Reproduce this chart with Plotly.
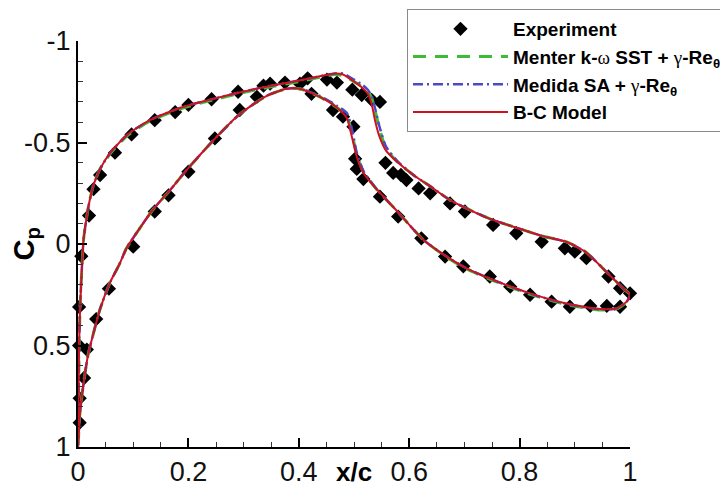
import plotly.graph_objects as go

# ---- Suction side (upper surface), leading edge -> trailing edge ----
x_upper = [0.0, 0.001, 0.002, 0.004, 0.007, 0.01, 0.015, 0.02, 0.028, 0.04,
           0.06, 0.09, 0.13, 0.19, 0.245, 0.29, 0.35, 0.41, 0.445, 0.465,
           0.48, 0.5, 0.515, 0.525, 0.532, 0.538, 0.546, 0.558, 0.58, 0.61,
           0.635, 0.675, 0.72, 0.75, 0.8, 0.84, 0.885, 0.92, 0.96, 0.99, 1.0]
cp_upper_bc = [1.0, 0.75, 0.5, 0.3, 0.12, -0.02, -0.12, -0.2, -0.29, -0.37,
               -0.455, -0.54, -0.61, -0.675, -0.715, -0.745, -0.78, -0.81, -0.83, -0.84,
               -0.835, -0.8, -0.77, -0.74, -0.69, -0.61, -0.53, -0.46, -0.4, -0.335,
               -0.29, -0.215, -0.155, -0.12, -0.075, -0.04, -0.01, 0.04, 0.145, 0.225, 0.25]
cp_upper_sst = [1.0, 0.75, 0.5, 0.3, 0.12, -0.02, -0.12, -0.2, -0.29, -0.37,
                -0.45, -0.535, -0.605, -0.67, -0.71, -0.74, -0.775, -0.805, -0.825, -0.835,
                -0.83, -0.8, -0.775, -0.75, -0.72, -0.66, -0.57, -0.47, -0.4, -0.335,
                -0.29, -0.215, -0.155, -0.12, -0.075, -0.04, -0.01, 0.04, 0.145, 0.225, 0.25]
cp_upper_sa = [1.0, 0.75, 0.5, 0.3, 0.12, -0.02, -0.12, -0.2, -0.29, -0.37,
               -0.455, -0.54, -0.61, -0.675, -0.715, -0.745, -0.78, -0.81, -0.83, -0.84,
               -0.84, -0.81, -0.785, -0.76, -0.73, -0.67, -0.58, -0.48, -0.405, -0.335,
               -0.29, -0.215, -0.155, -0.12, -0.075, -0.04, -0.01, 0.04, 0.145, 0.225, 0.25]

# ---- Pressure side (lower surface), leading edge -> trailing edge ----
x_lower = [0.0, 0.003, 0.007, 0.012, 0.018, 0.027, 0.04, 0.058, 0.075, 0.088,
           0.11, 0.136, 0.165, 0.197, 0.245, 0.293, 0.342, 0.378, 0.402, 0.438,
           0.47, 0.487, 0.496, 0.505, 0.517, 0.541, 0.577, 0.626, 0.668, 0.704,
           0.752, 0.819, 0.885, 0.946, 0.976, 0.994, 1.0]
cp_lower_bc = [1.0, 0.85, 0.75, 0.65, 0.55, 0.45, 0.32, 0.19, 0.1, 0.02,
               -0.07, -0.17, -0.26, -0.365, -0.51, -0.64, -0.73, -0.765, -0.765, -0.725,
               -0.67, -0.62, -0.53, -0.43, -0.35, -0.27, -0.165, -0.02, 0.062, 0.12,
               0.177, 0.243, 0.293, 0.32, 0.317, 0.284, 0.25]
cp_lower_sst = [1.0, 0.85, 0.75, 0.65, 0.55, 0.45, 0.32, 0.19, 0.1, 0.02,
                -0.07, -0.17, -0.26, -0.365, -0.51, -0.64, -0.73, -0.765, -0.765, -0.725,
                -0.67, -0.63, -0.55, -0.44, -0.355, -0.27, -0.165, -0.02, 0.065, 0.123,
                0.18, 0.248, 0.298, 0.325, 0.32, 0.285, 0.25]
cp_lower_sa = [1.0, 0.85, 0.75, 0.65, 0.55, 0.45, 0.32, 0.19, 0.1, 0.02,
               -0.07, -0.17, -0.26, -0.365, -0.51, -0.64, -0.73, -0.765, -0.765, -0.73,
               -0.68, -0.645, -0.57, -0.45, -0.36, -0.27, -0.165, -0.02, 0.062, 0.12,
               0.177, 0.245, 0.295, 0.322, 0.318, 0.284, 0.25]

# ---- Measured pressure coefficients ----
exp_x = [0.003, 0.003, 0.002, 0.002, 0.006,
         0.02, 0.028, 0.04, 0.067, 0.097, 0.139, 0.176, 0.2, 0.242, 0.29,
         0.336, 0.348, 0.375, 0.402, 0.416, 0.451, 0.469, 0.497, 0.514, 0.532, 0.547,
         0.557, 0.571, 0.585, 0.595, 0.617, 0.638, 0.674, 0.701, 0.752, 0.794,
         0.84, 0.882, 0.9, 0.921, 0.961, 0.982, 1.0,
         0.011, 0.016, 0.033, 0.056, 0.1, 0.139, 0.164, 0.2, 0.248, 0.293,
         0.324, 0.423, 0.462, 0.48, 0.499, 0.502, 0.505, 0.517, 0.547, 0.58,
         0.622, 0.665, 0.698, 0.746, 0.783, 0.819, 0.858, 0.891, 0.928, 0.958, 0.982]
exp_cp = [0.88, 0.76, 0.5, 0.31, 0.06,
          -0.14, -0.27, -0.34, -0.45, -0.54, -0.61, -0.65, -0.685, -0.713, -0.75,
          -0.78, -0.79, -0.795, -0.79, -0.816, -0.81, -0.795, -0.76, -0.734, -0.71, -0.7,
          -0.4, -0.35, -0.34, -0.315, -0.274, -0.25, -0.2, -0.16, -0.094, -0.053,
          -0.011, 0.021, 0.038, 0.07, 0.16, 0.218, 0.243,
          0.66, 0.52, 0.37, 0.22, 0.013, -0.16, -0.24, -0.356, -0.52, -0.66,
          -0.725, -0.74, -0.66, -0.627, -0.578, -0.42, -0.37, -0.32, -0.233, -0.135,
          -0.028, 0.062, 0.11, 0.16, 0.21, 0.25, 0.284, 0.309, 0.305, 0.305, 0.309]

x_ticks = [0, 0.2, 0.4, 0.6, 0.8, 1.0]
x_tick_text = ["0", "0.2", "0.4", "0.6", "0.8", "1"]
y_ticks = [-1, -0.5, 0, 0.5, 1]
y_tick_text = ["-1", "-0.5", "0", "0.5", "1"]


def loop(xu, cu, xl, cl):
    """Join both surfaces into one closed curve: TE -> LE (upper) -> TE (lower)."""
    return list(reversed(xu)) + xl[1:], list(reversed(cu)) + cl[1:]


FONT = "Liberation Sans, Arial, Helvetica, sans-serif"
SERIF = "<span style=\"font-family:'Liberation Serif',serif;font-weight:normal\">"

fig = go.Figure()

fig.add_trace(go.Scatter(
    x=exp_x, y=exp_cp, mode="markers", name="<b>Experiment</b>",
    marker=dict(symbol="diamond", size=11, color="black"),
    cliponaxis=False,
))

for name, cu, cl, color, dash, width in [
    ("<b>Menter k-" + SERIF + "ω</span> SST + " + SERIF + "γ</span>-Re<sub>θ</sub></b>",
     cp_upper_sst, cp_lower_sst, "#3dbb34", "13px,9px", 3),
    ("<b>Medida SA + " + SERIF + "γ</span>-Re<sub>θ</sub></b>",
     cp_upper_sa, cp_lower_sa, "#4a4ac4", "10px,4px,2px,4px", 2.5),
    ("<b>B-C Model</b>", cp_upper_bc, cp_lower_bc, "#d0111f", "solid", 2),
]:
    xs, ys = loop(x_upper, cu, x_lower, cl)
    fig.add_trace(go.Scatter(
        x=xs, y=ys, mode="lines", name=name,
        line=dict(color=color, dash=dash, width=width, shape="spline", smoothing=0.6),
        cliponaxis=False,
    ))

axis_common = dict(
    showline=True, linecolor="black", linewidth=2,
    showgrid=False, zeroline=False, automargin=False,
    ticks="inside", ticklen=9, tickwidth=1.5, tickcolor="black",
    tickfont=dict(family=FONT, size=27, color="#111"),
)

fig.update_xaxes(
    range=[0, 1], tickvals=x_ticks, ticktext=x_tick_text,
    minor=dict(dtick=0.05, ticks="inside", ticklen=5, tickwidth=1, tickcolor="#333"),
    **axis_common,
)
fig.update_yaxes(
    range=[1, -1], tickvals=y_ticks, ticktext=y_tick_text,
    minor=dict(dtick=0.1, ticks="inside", ticklen=5, tickwidth=1, tickcolor="#333"),
    **axis_common,
)

fig.add_annotation(
    text="<b>x/c</b>", xref="paper", yref="paper", x=0.5, y=-0.062,
    xanchor="center", yanchor="middle", showarrow=False,
    font=dict(family=FONT, size=26, color="black"),
)
fig.add_annotation(
    text="<b>C<sub>p</sub></b>", xref="paper", yref="paper", x=-0.095, y=0.5,
    xanchor="center", yanchor="middle", showarrow=False, textangle=-90,
    font=dict(family=FONT, size=29, color="black"),
)

fig.update_layout(
    width=720, height=489,
    margin=dict(l=78, r=90, t=41, b=42, autoexpand=False),
    paper_bgcolor="white", plot_bgcolor="white",
    font=dict(family=FONT, color="black"),
    legend=dict(
        x=0.596, y=1.079, xanchor="left", yanchor="top",
        bgcolor="white", bordercolor="#8a8a8a", borderwidth=1,
        font=dict(family=FONT, size=19, color="black"),
        itemwidth=95, tracegroupgap=0,
    ),
)

fig.write_html("out.html")
